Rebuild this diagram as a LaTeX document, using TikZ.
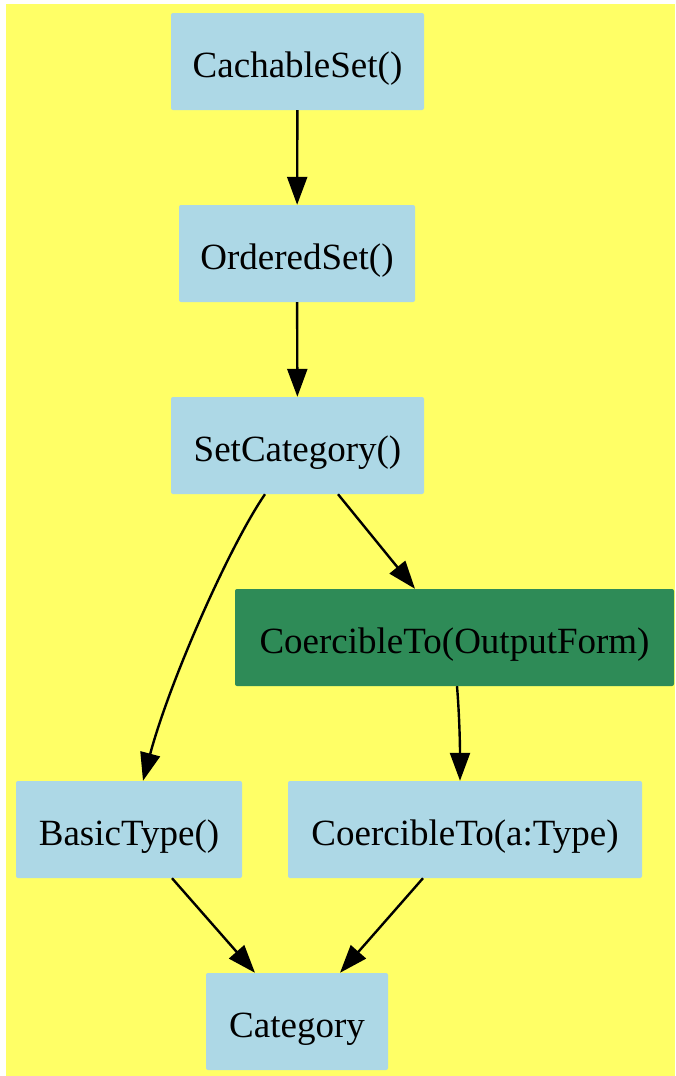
\documentclass[tikz,border=0pt]{standalone}
\usepackage{fontspec}
\setmainfont{Liberation Serif}
\usetikzlibrary{arrows.meta}
\tikzset{
    % category boxes
    catbox/.style={fill=boxblue, rounded corners=2pt, minimum height=97pt,
        inner sep=0pt, text height=38pt, text depth=7pt,
        font=\fontsize{37}{44}\selectfont},
    % the highlighted category
    hibox/.style={catbox, fill=boxgreen},
    % inheritance edges
    edge/.style={-{Triangle[length=28pt, width=20pt]}, line width=2.4pt},
}
\definecolor{bgyellow}{HTML}{FFFF66}
\definecolor{boxblue}{HTML}{ADD8E6}
\definecolor{boxgreen}{HTML}{2E8B57}

\begin{document}
\begin{tikzpicture}[x=1pt, y=-1pt]

    % ---- background ----
    \useasboundingbox (0,0) rectangle (675,1076);
    \fill[bgyellow] (6,4) rectangle (675,1076);

    % ---- categories ----
    \node[catbox, minimum width=253pt] (cset)  at (297.5, 61.5)  {CachableSet()};
    \node[catbox, minimum width=236pt] (oset)  at (297, 253.5)   {OrderedSet()};
    \node[catbox, minimum width=253pt] (scat)  at (297.5, 445.5) {SetCategory()};
    \node[hibox,  minimum width=439pt] (coout) at (454.5, 637.5) {CoercibleTo(OutputForm)};
    \node[catbox, minimum width=226pt] (btype) at (129, 829.5)   {BasicType()};
    \node[catbox, minimum width=354pt] (coty)  at (465, 829.5)   {CoercibleTo(a:Type)};
    \node[catbox, minimum width=182pt] (cat)   at (297, 1021.5)  {Category};

    % ---- edges ----
    \draw[edge] (cset) -- (oset);
    \draw[edge] (oset) -- (scat);
    \draw[edge] ([xshift=40.5pt]scat.south) -- ([xshift=-39.5pt]coout.north);
    \draw[edge] ([xshift=-32.5pt]scat.south)
        .. controls (230,545) and (170,680) .. ([xshift=14pt]btype.north);
    \draw[edge] ([xshift=2.5pt]coout.south)
        .. controls (459,710) and (460,740) .. ([xshift=-5pt]coty.north);
    \draw[edge] ([xshift=43pt]btype.south) -- ([xshift=-42pt]cat.north);
    \draw[edge] ([xshift=-42pt]coty.south) -- ([xshift=43pt]cat.north);

\end{tikzpicture}
\end{document}
